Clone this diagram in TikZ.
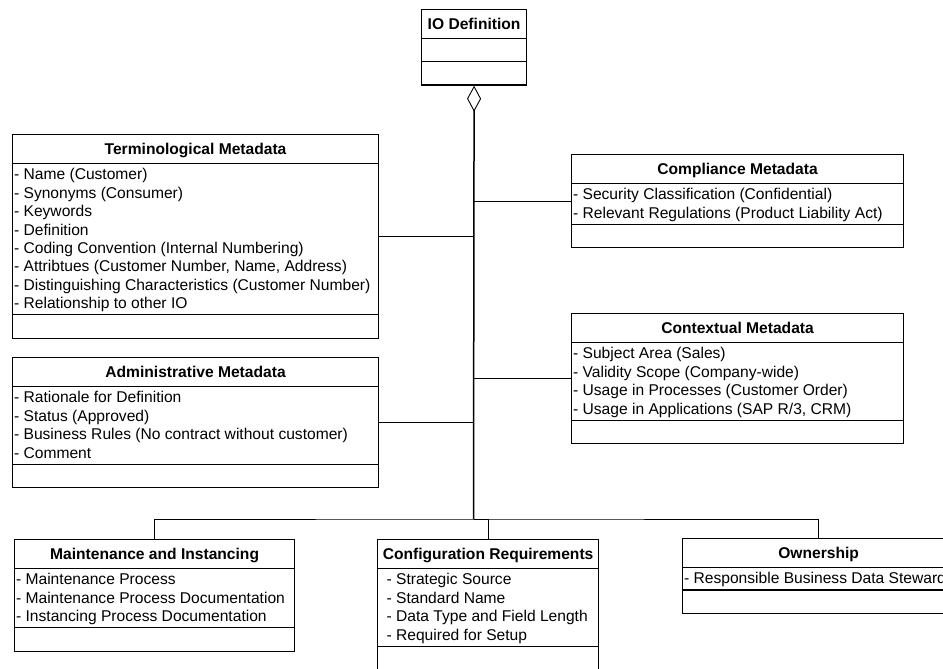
\documentclass[tikz,border=0pt]{standalone}
\usepackage{fontspec}
\setmainfont{Liberation Sans}
\usetikzlibrary{shapes.multipart,arrows.meta}
\newcommand{\classtitle}[1]{\rule[-6.8pt]{0pt}{24.5pt}\textbf{#1}}
\newcommand{\attr}[1]{\rule[-4pt]{0pt}{18.4pt}- #1}
\newcommand{\emptypart}{\rule{0pt}{19.2pt}}

\begin{document}
\begin{tikzpicture}[x=1pt, y=-1pt,
  umlclass/.style={draw, line width=1.2pt, rectangle split, rectangle split parts=3,
    rectangle split part align={center,left,left}, align=left, anchor=north west,
    inner xsep=1.5pt, inner ysep=1.5pt, font=\fontsize{15.6}{18.4}\selectfont},
  link/.style={line width=1pt},
  trunk/.style={line width=1.5pt}]
\useasboundingbox (0,0) rectangle (943,669);
\clip (0,0) rectangle (943,669);

% IO definition
\node[umlclass, minimum width=105pt] (io) at (421,9) {\classtitle{IO Definition}
  \nodepart{two}\emptypart
  \nodepart{three}\emptypart};

% Left side
\node[umlclass, minimum width=366pt] (term) at (12,134) {\classtitle{Terminological Metadata}
  \nodepart{two}\attr{Name (Customer)}\\
  \attr{Synonyms (Consumer)}\\
  \attr{Keywords}\\
  \attr{Definition}\\
  \attr{Coding Convention (Internal Numbering)}\\
  \attr{Attribtues (Customer Number, Name, Address)}\\
  \attr{Distinguishing Characteristics (Customer Number)}\\
  \attr{Relationship to other IO}
  \nodepart{three}\emptypart};
\node[umlclass, minimum width=366pt] (admin) at (12,357) {\classtitle{Administrative Metadata}
  \nodepart{two}\attr{Rationale for Definition}\\
  \attr{Status (Approved)}\\
  \attr{Business Rules (No contract without customer)}\\
  \attr{Comment}
  \nodepart{three}\emptypart};

% Right side
\node[umlclass, minimum width=332pt] (comp) at (571,154) {\classtitle{Compliance Metadata}
  \nodepart{two}\attr{Security Classification (Confidential)}\\
  \attr{Relevant Regulations (Product Liability Act)}
  \nodepart{three}\emptypart};
\node[umlclass, minimum width=332pt] (ctx) at (571,313) {\classtitle{Contextual Metadata}
  \nodepart{two}\attr{Subject Area (Sales)}\\
  \attr{Validity Scope (Company-wide)}\\
  \attr{Usage in Processes (Customer Order)}\\
  \attr{Usage in Applications (SAP R/3, CRM)}
  \nodepart{three}\emptypart};

% Bottom row
\node[umlclass, minimum width=280pt] (maint) at (14,539) {\classtitle{Maintenance and Instancing}
  \nodepart{two}\attr{Maintenance Process}\\
  \attr{Maintenance Process Documentation}\\
  \attr{Instancing Process Documentation}
  \nodepart{three}\emptypart};
\node[umlclass, minimum width=221pt] (config) at (377,539) {\classtitle{Configuration Requirements}
  \nodepart{two}\hspace*{7.5pt}\attr{Strategic Source}\\
  \hspace*{7.5pt}\attr{Standard Name}\\
  \hspace*{7.5pt}\attr{Data Type and Field Length}\\
  \hspace*{7.5pt}\attr{Required for Setup}
  \nodepart{three}\emptypart};
\node[umlclass, minimum width=272pt] (own) at (682,538) {\classtitle{Ownership}
  \nodepart{two}\attr{Responsible Business Data Steward}
  \nodepart{three}\emptypart};

% Connectors
\coordinate (bus) at (473.5,519);
\draw[trunk, {Diamond[open, length=26pt, width=14pt, line width=0.9pt]}-] (io.south) -- (bus);
\draw[link] (term.east) -- (term.east -| bus);
\draw[link] (admin.east) -- (admin.east -| bus);
\draw[link] (comp.west) -- (comp.west -| bus);
\draw[link] (ctx.west) -- (ctx.west -| bus);
\draw[link] (maint.north) |- (bus) -| (own.north);
\draw[link] (config.north) |- (bus);
\end{tikzpicture}
\end{document}
